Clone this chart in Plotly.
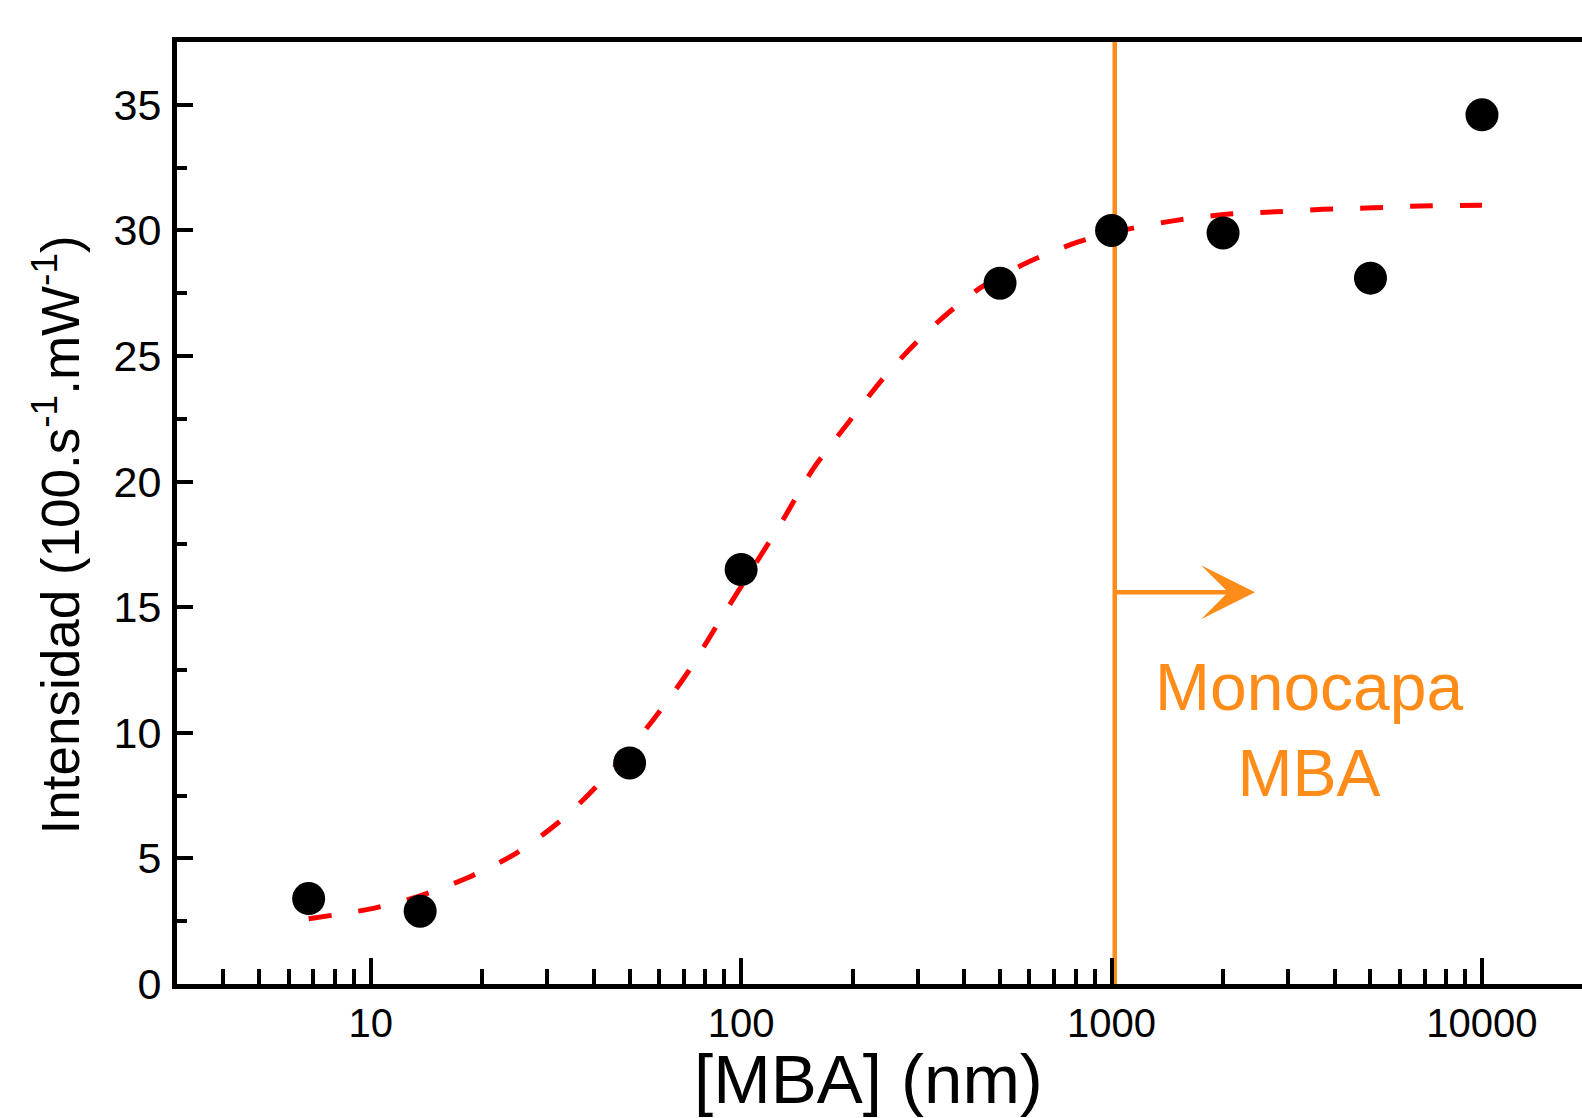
import math
import plotly.graph_objects as go

# ---- data ----
conc_nm = [6.8, 13.6, 50, 100, 500, 1000, 2000, 5000, 10000]
intensity = [3.4, 2.9, 8.8, 16.5, 27.9, 30.0, 29.9, 28.1, 34.6]

fit_x = [6.8, 9.9, 13.4, 18.2, 24.8, 33.7, 45.1, 57.7, 71.8, 87.3, 105.8, 128, 156, 192,
         248, 325, 441, 596, 813, 1100, 1480, 2040, 2770, 3720, 5080, 6840, 10000]
fit_y = [2.6, 2.98, 3.48, 4.22, 5.22, 6.69, 8.57, 10.49, 12.41, 14.43, 16.4, 18.33, 20.48, 22.23,
         24.3, 26.1, 27.7, 28.74, 29.54, 30.04, 30.39, 30.64, 30.74, 30.84, 30.9, 30.97, 31.0]

monolayer_x = [1020, 1020]
monolayer_y = [0, 37.5]

x_major_ticks = [10, 100, 1000, 10000]
x_major_labels = ["10", "100", "1000", "10000"]
x_minor_ticks = [4, 5, 6, 7, 8, 9,
                 20, 30, 40, 50, 60, 70, 80, 90,
                 200, 300, 400, 500, 600, 700, 800, 900,
                 2000, 3000, 4000, 5000, 6000, 7000, 8000, 9000]
y_ticks = [0, 5, 10, 15, 20, 25, 30, 35]

arrow_start_x = 1020
arrow_end_x = 2440
arrow_y = 15.6
label_x = 3430
label_y = 10.1

ORANGE = "#FF8C19"
FONT = "Liberation Sans, Arial, sans-serif"
x_range = [math.log10(3.0), 4.27]
y_range = [0, 37.5]

fig = go.Figure()

fig.add_trace(go.Scatter(x=monolayer_x, y=monolayer_y, mode="lines",
                         line=dict(color=ORANGE, width=4.5), showlegend=False, hoverinfo="skip"))
fig.add_trace(go.Scatter(x=fit_x, y=fit_y, mode="lines",
                         line=dict(color="#FF0000", width=5, dash="23px,27px", shape="spline", smoothing=0.8),
                         showlegend=False))
fig.add_trace(go.Scatter(x=conc_nm, y=intensity, mode="markers",
                         marker=dict(color="black", size=33), showlegend=False))
# empty trace for minor tick overlay axis
fig.add_trace(go.Scatter(x=[], y=[], xaxis="x2", yaxis="y", showlegend=False))

fig.add_annotation(x=math.log10(arrow_end_x), y=arrow_y, ax=math.log10(arrow_start_x), ay=arrow_y,
                   xref="x", yref="y", axref="x", ayref="y", text="", showarrow=True,
                   arrowhead=3, arrowwidth=4.5, arrowsize=2.0, arrowcolor=ORANGE)
fig.add_annotation(x=math.log10(label_x), y=label_y, xref="x", yref="y",
                   text="Monocapa<br>MBA", showarrow=False, align="center",
                   font=dict(family=FONT, size=66, color=ORANGE))

# axis titles placed as annotations to match the reference positions
fig.add_annotation(x=0.492, y=-0.101, xref="paper", yref="paper", xanchor="center", yanchor="middle",
                   text="[MBA] (nm)", showarrow=False,
                   font=dict(family=FONT, size=69, color="black"))
fig.add_annotation(x=-0.0856, y=0.477, xref="paper", yref="paper", xanchor="center", yanchor="middle",
                   text="Intensidad (100.s<sup>-1</sup>.mW<sup>-1</sup>)", textangle=-90, showarrow=False,
                   font=dict(family=FONT, size=53, color="black"))

fig.update_layout(
    width=1582, height=1118,
    margin=dict(l=177, r=0, t=42, b=134),
    paper_bgcolor="white", plot_bgcolor="white",
    font=dict(family=FONT, color="black"),
    xaxis=dict(type="log", range=x_range, showgrid=False, zeroline=False,
               showline=True, linecolor="black", linewidth=5, mirror=True,
               tickvals=x_major_ticks, ticktext=x_major_labels,
               ticks="inside", ticklen=26, tickwidth=4, tickcolor="black",
               tickfont=dict(family=FONT, size=40), ticklabelstandoff=0),
    xaxis2=dict(type="log", range=x_range, overlaying="x", anchor="y", side="bottom",
                showgrid=False, zeroline=False, showline=False,
                tickvals=x_minor_ticks, ticktext=[""] * len(x_minor_ticks),
                ticks="inside", ticklen=15, tickwidth=4, tickcolor="black", showticklabels=False),
    yaxis=dict(range=y_range, showgrid=False, zeroline=False,
               showline=True, linecolor="black", linewidth=5, mirror=False,
               tickvals=y_ticks, ticks="inside", ticklen=16, tickwidth=4, tickcolor="black",
               minor=dict(dtick=2.5, ticks="inside", ticklen=10, tickwidth=4, tickcolor="black", showgrid=False),
               tickfont=dict(family=FONT, size=43), ticklabelstandoff=2),
)

fig.write_html("out.html")
